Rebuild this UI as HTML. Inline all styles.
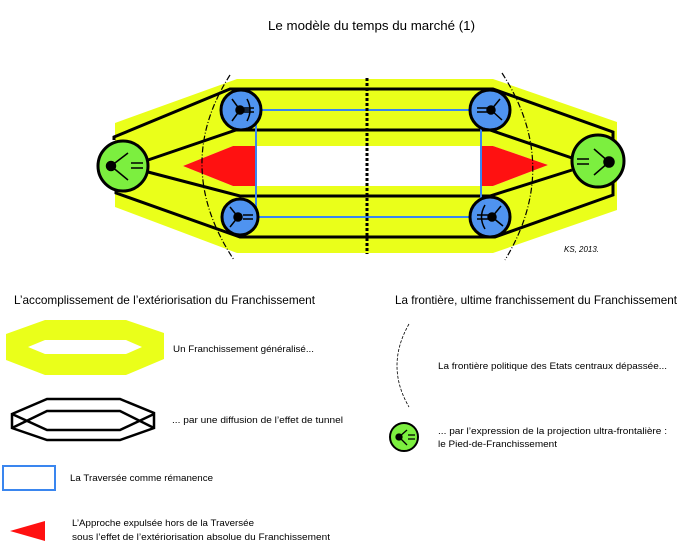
<!DOCTYPE html>
<html><head><meta charset="utf-8"><style>
body{margin:0;background:#fff;}
svg text{font-family:"Liberation Sans",sans-serif;fill:#000;}
</style></head><body>
<svg width="679" height="543" viewBox="0 0 679 543" xmlns="http://www.w3.org/2000/svg">
<text x="268" y="30" font-size="13" textLength="207" lengthAdjust="spacingAndGlyphs">Le modèle du temps du marché (1)</text>
<!-- yellow -->
<path fill-rule="evenodd" fill="#eaff1a" d="M237,79 L493,79 L617,122 L617,210 L493,253 L237,253 L115,207 L115,123 Z M183,166 L233,146 L493,146 L548,165 L493,186 L233,186 Z"/>
<polygon fill="#ff1111" points="183,166 233,146 256,146 256,186 233,186"/>
<polygon fill="#ff1111" points="482,146 493,146 548,165 493,186 482,186"/>
<!-- black lines -->
<g fill="none" stroke="#000" stroke-width="3">
<polyline points="114,140 114,137 230,89 493,89 613,132 613,195 495,237 240,237 116,193 116,185"/>
<polyline points="148,160 236,130 490,130 572,158"/>
<polyline points="148,172 240,196 490,196 572,170"/>
</g>
<rect x="256" y="110" width="225" height="107" fill="none" stroke="#3a86ef" stroke-width="2"/>
<line x1="367" y1="78" x2="367" y2="254" stroke="#000" stroke-width="3" stroke-dasharray="3,2"/>
<g fill="none" stroke="#000" stroke-width="1.2" stroke-dasharray="6,2,1,2">
<path d="M230,75 Q172,166 234,260"/>
<path d="M502,73 Q562,166 505,260"/>
</g>
<!-- nodes -->
<g stroke="#000" stroke-width="3">
<circle cx="123" cy="166" r="25" fill="#7cef3f"/>
<circle cx="598" cy="161" r="26" fill="#7cef3f"/>
<circle cx="241" cy="110" r="20" fill="#4f93f0"/>
<circle cx="240" cy="217" r="18" fill="#4f93f0"/>
<circle cx="490" cy="110" r="20" fill="#4f93f0"/>
<circle cx="490" cy="217" r="20" fill="#4f93f0"/>
</g>
<g stroke="#000" stroke-width="1.5" fill="none">
<circle cx="111" cy="166" r="4.5" fill="#000"/><line x1="111" y1="166" x2="128" y2="153"/><line x1="111" y1="166" x2="128" y2="180"/>
<line x1="131" y1="163" x2="143" y2="163"/><line x1="131" y1="168" x2="143" y2="168"/>
<circle cx="609" cy="162" r="5" fill="#000"/><line x1="609" y1="162" x2="594" y2="149"/><line x1="609" y1="162" x2="594" y2="175"/>
<line x1="577" y1="159" x2="589" y2="159"/><line x1="577" y1="164" x2="589" y2="164"/>
<circle cx="240" cy="110" r="4" fill="#000"/><line x1="240" y1="110" x2="232" y2="99"/><line x1="240" y1="110" x2="232" y2="121"/><line x1="240" y1="110" x2="250" y2="110"/>
<line x1="244" y1="108" x2="254" y2="108"/><line x1="244" y1="112" x2="254" y2="112"/><path d="M247,99 Q253,110 247,121"/>
<circle cx="238" cy="217" r="4" fill="#000"/><line x1="238" y1="217" x2="230" y2="207"/><line x1="238" y1="217" x2="230" y2="227"/>
<line x1="243" y1="215" x2="253" y2="215"/><line x1="243" y1="219" x2="253" y2="219"/>
<circle cx="491" cy="110" r="4" fill="#000"/><line x1="491" y1="110" x2="500" y2="99"/><line x1="491" y1="110" x2="502" y2="120"/>
<line x1="477" y1="108" x2="488" y2="108"/><line x1="477" y1="112" x2="488" y2="112"/>
<circle cx="492" cy="217" r="4" fill="#000"/><line x1="492" y1="217" x2="501" y2="206"/><line x1="492" y1="217" x2="503" y2="226"/>
<line x1="477" y1="215" x2="490" y2="215"/><line x1="477" y1="219" x2="490" y2="219"/><path d="M485,205 Q478,217 485,229"/>
</g>
<text x="564" y="252" font-size="8" font-style="italic" textLength="35" lengthAdjust="spacingAndGlyphs">KS, 2013.</text>
<!-- legend -->
<text x="14" y="304" font-size="12" textLength="301" lengthAdjust="spacingAndGlyphs">L’accomplissement de l’extériorisation du Franchissement</text>
<text x="395" y="304" font-size="12" textLength="282" lengthAdjust="spacingAndGlyphs">La frontière, ultime franchissement du Franchissement</text>
<path fill-rule="evenodd" fill="#eaff1a" d="M6,334 L45,320 L126,320 L164,333 L164,359 L126,375 L45,375 L6,360 Z M28,347 L45,340 L126,340 L142,347 L126,354 L45,354 Z"/>
<text x="173" y="352" font-size="9" textLength="141" lengthAdjust="spacingAndGlyphs">Un Franchissement généralisé...</text>
<g fill="none" stroke="#000" stroke-width="2.5">
<polygon points="12,414 47,399 120,399 154,413 154,428 120,440 47,440 12,428"/>
<polyline points="12,428 47,411 120,411 154,428"/>
<polyline points="12,414 47,430 120,430 154,414"/>
</g>
<text x="172" y="423" font-size="9" textLength="171" lengthAdjust="spacingAndGlyphs">... par une diffusion de l’effet de tunnel</text>
<rect x="3" y="466" width="52" height="24" fill="none" stroke="#3a86ef" stroke-width="2"/>
<text x="70" y="481" font-size="9" textLength="143" lengthAdjust="spacingAndGlyphs">La Traversée comme rémanence</text>
<polygon points="10,531 45,521 45,541" fill="#ff1111"/>
<text x="72" y="526" font-size="9" textLength="182" lengthAdjust="spacingAndGlyphs">L’Approche expulsée hors de la Traversée</text>
<text x="72" y="540" font-size="9" textLength="258" lengthAdjust="spacingAndGlyphs">sous l’effet de l’extériorisation absolue du Franchissement</text>
<path d="M409,324 Q385,366 409,407" fill="none" stroke="#000" stroke-width="0.8" stroke-dasharray="3,1.5"/>
<text x="438" y="369" font-size="9" textLength="229" lengthAdjust="spacingAndGlyphs">La frontière politique des Etats centraux dépassée...</text>
<circle cx="404" cy="437" r="14" fill="#7cef3f" stroke="#000" stroke-width="2"/>
<g stroke="#000" stroke-width="1.3"><circle cx="399" cy="437" r="3" fill="#000"/><line x1="399" y1="437" x2="407" y2="430"/><line x1="399" y1="437" x2="407" y2="445"/><line x1="408" y1="435" x2="415" y2="435"/><line x1="408" y1="439" x2="415" y2="439"/></g>
<text x="438" y="434" font-size="9" textLength="229" lengthAdjust="spacingAndGlyphs">... par l’expression de la projection ultra-frontalière :</text>
<text x="438" y="447" font-size="9" textLength="119" lengthAdjust="spacingAndGlyphs">le Pied-de-Franchissement</text>
</svg>
</body></html>
